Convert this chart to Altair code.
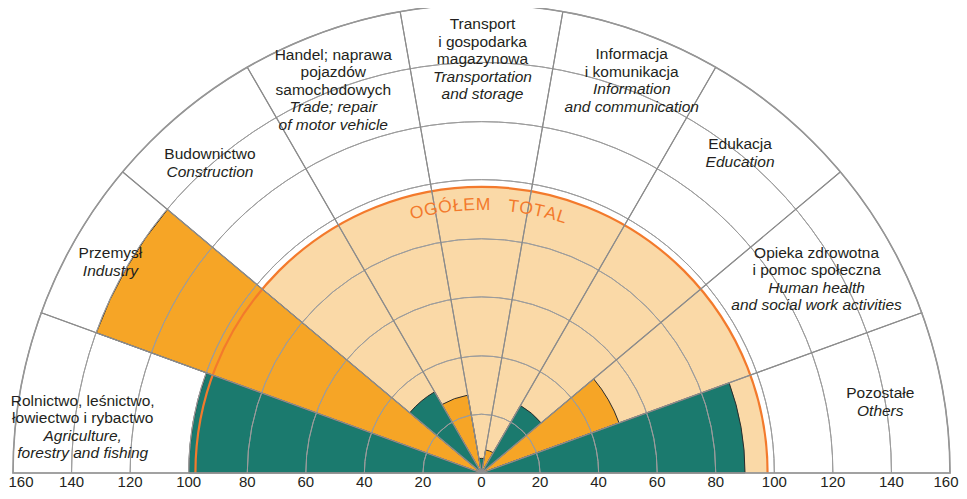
import math
import altair as alt
import pandas as pd

# ---------------- data ----------------
sectors_pl = [
    "Rolnictwo, leśnictwo,\nłowiectwo i rybactwo",
    "Przemysł",
    "Budownictwo",
    "Handel; naprawa\npojazdów\nsamochodowych",
    "Transport\ni gospodarka\nmagazynowa",
    "Informacja\ni komunikacja",
    "Edukacja",
    "Opieka zdrowotna\ni pomoc społeczna",
    "Pozostałe",
]
sectors_en = [
    "Agriculture,\nforestry and fishing",
    "Industry",
    "Construction",
    "Trade; repair\nof motor vehicle",
    "Transportation\nand storage",
    "Information\nand communication",
    "Education",
    "Human health\nand social work activities",
    "Others",
]
values = [100, 140, 32, 27, 5, 8, 26.6, 50, 90]
total_value = 97.7
tick_values = [0, 20, 40, 60, 80, 100, 120, 140, 160]
grid_values = [20, 40, 60, 80, 100, 120, 140]
total_text = "OGÓŁEM   TOTAL"

# ---------------- layout / style ----------------
W, H = 951, 483
CX, CY = 473.5, 465.0
R_PX = 468.5
N = len(values)
FONT = "Liberation Sans"
TEAL, ORANGE, PEACH, LINE_OR = "#1b7a6e", "#f6a526", "#fad9a7", "#f37a2c"
TXT = "#231f20"
# small pixel nudges of the sector label blocks (dx, dy), layout only
LABEL_NUDGE = [(5, 25), (-16, -6), (-8, 4), (-8, 2), (1, -4), (10, -7), (-5, -6), (-20, 11), (-5, 0)]

theta_sc = alt.Scale(domain=[0, N], range=[1.5 * math.pi, 2.5 * math.pi])
rad_sc = alt.Scale(type="linear", domain=[0, 160], range=[0, R_PX])
center = dict(x=alt.value(CX), y=alt.value(CY))


def th(field):
    return alt.Theta(field, scale=theta_sc)


def rd(field):
    return alt.Radius(field, scale=rad_sc)


# background "total" half-disc
tot_df = pd.DataFrame({"a": [0], "b": [N], "r": [total_value]})
bg = alt.Chart(tot_df).mark_arc(fill=PEACH, strokeWidth=0).encode(
    theta=th("a:Q"), theta2="b:Q", radius=rd("r:Q"), **center)

# bars
bars_df = pd.DataFrame({
    "i": list(range(N)),
    "i2": [i + 1 for i in range(N)],
    "value": values,
    "grp": ["a" if i % 2 == 0 else "b" for i in range(N)],
})
bars = alt.Chart(bars_df).mark_arc(stroke="#2b2b2b", strokeWidth=1).encode(
    theta=th("i:Q"), theta2="i2:Q", radius=rd("value:Q"),
    color=alt.Color("grp:N", scale=alt.Scale(domain=["a", "b"], range=[TEAL, ORANGE]), legend=None),
    **center)

# grid circles
grid_df = pd.DataFrame({"r": grid_values, "a": 0, "b": N})
grid = alt.Chart(grid_df).mark_arc(filled=False, stroke="#9c9c9c", strokeWidth=1).encode(
    theta=th("a:Q"), theta2="b:Q", radius=rd("r:Q"), radius2="r:Q", **center)

# total outline
tot_line = alt.Chart(tot_df).mark_arc(filled=False, stroke=LINE_OR, strokeWidth=2.2).encode(
    theta=th("a:Q"), theta2="b:Q", radius=rd("r:Q"), radius2="r:Q", **center)

# spokes (sector outlines at full radius)
spk_df = pd.DataFrame({"i": list(range(N)), "i2": [i + 1 for i in range(N)], "r": 160})
spokes = alt.Chart(spk_df).mark_arc(filled=False, stroke="#8c8c8c", strokeWidth=1.1).encode(
    theta=th("i:Q"), theta2="i2:Q", radius=rd("r:Q"), **center)
outer = alt.Chart(pd.DataFrame({"a": [0], "b": [N], "r": [160]})).mark_arc(
    filled=False, stroke="#969696", strokeWidth=1.6).encode(
    theta=th("a:Q"), theta2="b:Q", radius=rd("r:Q"), **center)

# tick labels along the baseline
trows = []
for v in tick_values:
    if v == 0:
        trows.append({"u": 0, "v": 0, "lbl": "0", "edge": 0})
    else:
        trows.append({"u": 0, "v": v, "lbl": str(v), "edge": -1 if v == 160 else 0})
        trows.append({"u": N, "v": v, "lbl": str(v), "edge": 1 if v == 160 else 0})
tick_df = pd.DataFrame(trows)
tick_layers = []
for edge, dx in [(0, 0), (-1, 8), (1, -4)]:
    sub = tick_df[tick_df["edge"] == edge]
    tick_layers.append(
        alt.Chart(sub).mark_text(font=FONT, fontSize=15, color=TXT, dy=14, dx=dx,
                                 baseline="alphabetic", align="center").encode(
            theta=th("u:Q"), radius=rd("v:Q"), text="lbl:N", **center))

# category labels
LH = 17.5
LABEL_R = 410
label_layers = []
for i, (pl, en) in enumerate(zip(sectors_pl, sectors_en)):
    lines = [(t, False) for t in pl.split("\n")] + [(t, True) for t in en.split("\n")]
    n = len(lines)
    ndx, ndy = LABEL_NUDGE[i]
    for j, (t, it) in enumerate(lines):
        sub = pd.DataFrame({"u": [i + 0.5], "txt": [t]})
        label_layers.append(
            alt.Chart(sub).mark_text(font=FONT, fontSize=15.5, color=TXT, radius=LABEL_R,
                                     dx=ndx, dy=(j - (n - 1) / 2) * LH + ndy,
                                     align="center", baseline="middle",
                                     fontStyle="italic" if it else "normal").encode(
                theta=th("u:Q"), text="txt:N", **center))

# curved "OGÓŁEM TOTAL" text
EM = {"O": 0.778, "G": 0.778, "Ó": 0.778, "Ł": 0.556, "E": 0.667, "M": 0.833,
      " ": 0.278, "T": 0.611, "A": 0.667, "L": 0.556}
FS_T, LS, R_T, MID_DEG = 17.5, 0.8, 268, 1.5
widths = [EM[c] * FS_T for c in total_text]
tot_w = sum(widths) + LS * (len(widths) - 1)
xpos = -tot_w / 2
crow = []
for c, w in zip(total_text, widths):
    xc = xpos + w / 2
    d = MID_DEG + math.degrees(xc / R_T)
    if c != " ":
        crow.append({"ch": c, "u": (d + 90) / 20, "rot": d % 360})
    xpos += w + LS
ch_df = pd.DataFrame(crow)
ogolem = alt.Chart(ch_df).mark_text(font=FONT, fontSize=FS_T, color=LINE_OR, radius=R_T,
                                    align="center", baseline="middle").encode(
    theta=th("u:Q"), text="ch:N", angle=alt.Angle("rot:Q", scale=None), **center)

chart = alt.layer(bg, bars, grid, tot_line, spokes, outer, *tick_layers, *label_layers, ogolem).properties(
    width=W, height=H, padding=0, autosize=alt.AutoSizeParams(type="none")
).configure_view(strokeWidth=0)

chart.save("out.html", embed_options={"renderer": "svg", "actions": False})
